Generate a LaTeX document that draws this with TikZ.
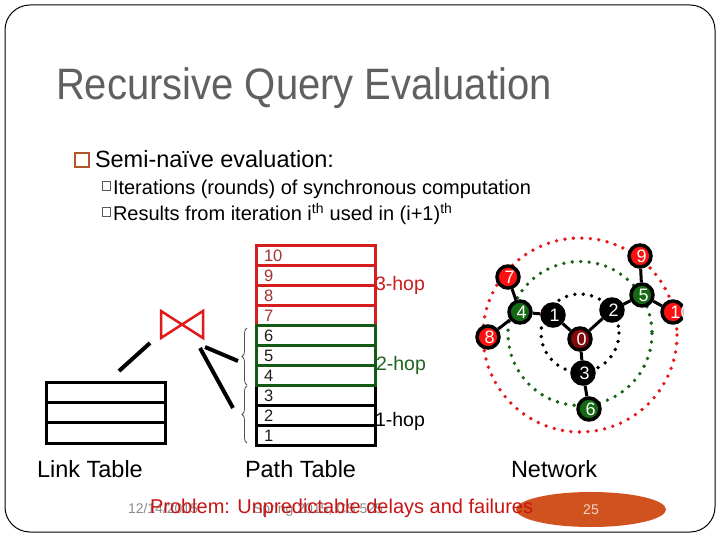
\documentclass[tikz,border=0pt]{standalone}
\usepackage{fontspec}
\setmainfont{Liberation Sans}
\usetikzlibrary{decorations.pathreplacing,shapes.geometric}
\definecolor{titlegray}{RGB}{96,96,96}
\definecolor{bulletbrown}{RGB}{176,86,42}
\definecolor{subgray}{RGB}{90,90,90}
\definecolor{tblred}{RGB}{214,30,30}
\definecolor{tblgreen}{RGB}{20,90,20}
\definecolor{numred}{RGB}{160,50,50}
\definecolor{numblack}{RGB}{30,30,30}
\definecolor{hopred}{RGB}{200,30,30}
\definecolor{hopgreen}{RGB}{30,100,30}
\definecolor{joinred}{RGB}{225,25,25}
\definecolor{nodered}{RGB}{255,15,15}
\definecolor{nodegreen}{RGB}{20,105,20}
\definecolor{nodedark}{RGB}{130,10,10}
\definecolor{dotred}{RGB}{230,25,25}
\definecolor{dotgreen}{RGB}{25,100,25}
\definecolor{ellorange}{RGB}{208,82,30}
\definecolor{probred}{RGB}{200,20,20}
\definecolor{footgray}{RGB}{140,140,140}
\definecolor{bracegray}{RGB}{80,80,80}
\pgfdeclarelayer{bg}
\pgfdeclarelayer{edges}
\pgfsetlayers{bg,edges,main}
\tikzset{
  txt/.style={anchor=base west, inner sep=0pt, outer sep=0pt},
  rowbox/.style={draw, line width=3pt, minimum width=119pt, minimum height=20pt, inner sep=0pt},
  rownum/.style={txt, font=\fontsize{16.5}{18}\selectfont},
  hoplabel/.style={txt, font=\fontsize{19.5}{22}\selectfont},
  caption/.style={txt, font=\fontsize{23.5}{28}\selectfont},
  netnode/.style={circle, draw=black, line width=3.5pt, minimum size=22pt, inner sep=0pt},
  nlabel/.style={text=white, font=\fontsize{18}{20}\selectfont, inner sep=0pt, xshift=1.5pt, yshift=-0.5pt},
  netedge/.style={line width=3pt, black},
  dotcircle/.style={line width=3.8pt, line cap=round, dash pattern=on 0pt off 8.5pt},
  thickline/.style={line width=4pt, black},
  subbox/.style={draw=subgray, line width=0.8pt, minimum width=8.5pt, minimum height=8.5pt, inner sep=0pt},
}
\begin{document}
\begin{tikzpicture}[x=1pt,y=-1pt]
\useasboundingbox (0,0) rectangle (720,540);
\begin{pgfonlayer}{bg}
\fill[white] (0,0) rectangle (720,540);
\end{pgfonlayer}
\draw[line width=1pt] (5,30) .. controls (5,16.2) and (16.2,5) .. (30,5) -- (690,5)
  .. controls (703.8,5) and (715,16.2) .. (715,30) -- (715,507)
  .. controls (715,520.8) and (703.8,532) .. (690,532) -- (30,532)
  .. controls (16.2,532) and (5,520.8) .. (5,507) -- cycle;

% title and bullets
\node[txt, text=titlegray, font=\fontsize{40}{48}\selectfont] (title) at (56,100) {\scalebox{1}[1.1]{Recursive Query Evaluation}};
\node[draw=bulletbrown, line width=1.8pt, minimum size=14pt, inner sep=0pt] (b0) at (82,160) {};
\node[txt, font=\fontsize{23.5}{28}\selectfont] (l0) at (95,168) {Semi-naïve evaluation:};
\node[subbox] (b1) at (106.5,186) {};
\node[txt, font=\fontsize{20}{24}\selectfont] (l1) at (113,195) {Iterations (rounds) of synchronous computation};
\node[subbox] (b2) at (106.5,212) {};
\node[txt, font=\fontsize{20}{24}\selectfont] (l2) at (113,221) {Results from iteration i\textsuperscript{th} used in (i+1)\textsuperscript{th}};

% link table
\node[rowbox, draw=black] (k1) at (105.5,392) {};
\node[rowbox, draw=black] (k2) at (105.5,412) {};
\node[rowbox, draw=black, minimum height=21pt] (k3) at (105.5,432.5) {};
\node[caption] (linkcap) at (37,477) {Link Table};

% path table
\foreach \i in {1,2,3} {
  \node[rowbox, draw=black] (r\i) at (315.5,455-20*\i) {};
}
\foreach \i in {7,8,9,10} {
  \node[rowbox, draw=tblred] (r\i) at (315.5,455-20*\i) {};
}
\foreach \i in {4,5,6} {
  \node[rowbox, draw=tblgreen] (r\i) at (315.5,455-20*\i) {};
}
\foreach \i in {1,...,6} {
  \node[rownum, text=numblack] (t\i) at (264,461.5-20*\i) {\i};
}
\foreach \i in {7,...,10} {
  \node[rownum, text=numred] (t\i) at (264,461.5-20*\i) {\i};
}
\node[hoplabel, text=hopred] (h3) at (375,290) {3-hop};
\node[hoplabel, text=hopgreen] (h2) at (376,370) {2-hop};
\node[hoplabel, text=black] (h1) at (375,426) {1-hop};
\node[caption] (pathcap) at (245,477) {Path Table};

% braces
\draw[bracegray, line width=0.8pt, decorate, decoration={brace, amplitude=5pt}] (247,385) -- (247,328);
\draw[bracegray, line width=0.8pt, decorate, decoration={brace, amplitude=5pt}] (247,443) -- (247,386);

% join symbol
\draw[joinred, line width=2.5pt, line join=miter] (161,311) -- (161,338) -- (203,311) -- (203,338) -- cycle;
\coordinate (lkA) at (119,371);
\coordinate (lkB) at (150,343);
\coordinate (jA) at (205,347);
\coordinate (bA) at (238,361);
\coordinate (jB) at (200,348);
\coordinate (bB) at (233,408);
\draw[thickline] (lkA) -- (lkB);
\draw[thickline] (jA) -- (bA);
\draw[thickline] (jB) -- (bB);

% network
\begin{pgfonlayer}{bg}
\draw[dotcircle, dotred] (580,335) circle (97);
\draw[dotcircle, dotgreen] (580,333.5) circle (72);
\draw[dotcircle, black] (580,333) circle (39);
\end{pgfonlayer}
\node[netnode, fill=nodered, label={[nlabel]center:9}] (n9) at (640,256) {};
\node[netnode, fill=nodered, label={[nlabel]center:7}] (n7) at (508,277) {};
\node[netnode, fill=nodegreen, label={[nlabel]center:4}] (n4) at (520,312) {};
\node[netnode, fill=black, label={[nlabel]center:1}] (n1) at (553,315) {};
\node[netnode, fill=black, label={[nlabel]center:2}] (n2) at (612,310) {};
\node[netnode, fill=nodegreen, label={[nlabel]center:5}] (n5) at (642,295) {};
\node[netnode, fill=nodered, label={[nlabel]center:8}] (n8) at (488,337) {};
\node[netnode, fill=nodedark, label={[nlabel]center:0}] (n0) at (580,339) {};
\node[netnode, fill=black, label={[nlabel]center:3}] (n3) at (583,373) {};
\node[netnode, fill=nodegreen, label={[nlabel]center:6}] (n6) at (589,409) {};
\begin{scope}
\clip (560,285) rectangle (683,340);
\node[netnode, fill=nodered, label={[nlabel, xshift=6pt]center:10}] (n10) at (673,312) {};
\end{scope}
\begin{pgfonlayer}{edges}
\draw[netedge] (n7) -- (n4);
\draw[netedge] (n4) -- (n8);
\draw[netedge] (n4) -- (n1);
\draw[netedge] (n1) -- (n0);
\draw[netedge] (n0) -- (n2);
\draw[netedge] (n2) -- (n5);
\draw[netedge] (n5) -- (n9);
\draw[netedge] (n5) -- (n10);
\draw[netedge] (n0) -- (n3);
\draw[netedge] (n3) -- (n6);
\end{pgfonlayer}
\node[caption] (netcap) at (511,477) {Network};

% footer
\node[ellipse, fill=ellorange, minimum width=150pt, minimum height=35pt, inner sep=0pt] (pg) at (591,509.5) {};
\node[text={rgb,255:red,245;green,215;blue,200}, font=\fontsize{14}{16}\selectfont, inner sep=0pt] (pgnum) at (pg.center) {25};
\node[txt, text=footgray, font=\fontsize{14}{16}\selectfont] (date) at (128,513) {12/14/2015};
\node[txt, text=footgray, font=\fontsize{14}{16}\selectfont] (foot) at (253,513) {Spring 2015, CS 525};
\node[txt, text=probred, font=\fontsize{20}{24}\selectfont] (prob) at (150,513) {Problem: Unpredictable delays and failures};
\end{tikzpicture}
\end{document}
